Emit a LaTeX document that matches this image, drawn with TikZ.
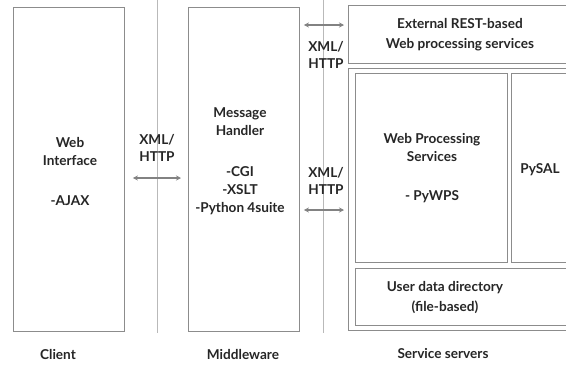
\documentclass[tikz,border=0pt]{standalone}
\usepackage{fontspec}
\setmainfont{Lato}
\usetikzlibrary{arrows.meta}
\definecolor{boxgray}{RGB}{140,140,140}
\definecolor{linegray}{RGB}{185,185,185}
\definecolor{arrowgray}{RGB}{130,130,130}
\tikzset{
  box/.style={draw=boxgray, line width=0.9pt},
  lbl/.style={font=\bfseries\fontsize{13.6}{18}\selectfont, align=center, inner sep=0pt, text=black!85},
  sep/.style={draw=linegray, line width=0.9pt},
  dblarrow/.style={draw=arrowgray, line width=1.4pt, {Stealth[length=5pt,width=5pt]}-{Stealth[length=5pt,width=5pt]}},
}
\begin{document}
\begin{tikzpicture}[x=1pt,y=-1pt]
\useasboundingbox (0,0) rectangle (566,365);
\clip (0,0) rectangle (566,365);
\fill[white] (0,0) rectangle (566,365);
% separators
\coordinate (s1t) at (157,0); \coordinate (s1b) at (157,333);
\coordinate (s2t) at (323,0); \coordinate (s2b) at (323,333);
\draw[sep] (s1t) -- (s1b);
\draw[sep] (s2t) -- (s2b);
% boxes
\node[box, minimum width=111pt, minimum height=324pt, anchor=north west, inner sep=0pt] (client) at (13,7) {};
\node[box, minimum width=111pt, minimum height=324pt, anchor=north west, inner sep=0pt] (mid) at (188,7) {};
\node[box, minimum width=230pt, minimum height=58pt, anchor=north west, inner sep=0pt] (ext) at (348,5) {};
\node[box, minimum width=230pt, minimum height=262pt, anchor=north west, inner sep=0pt] (srv) at (348,68) {};
\node[box, minimum width=152pt, minimum height=189pt, anchor=north west, inner sep=0pt] (wps) at (355,73) {};
\node[box, minimum width=70pt, minimum height=189pt, anchor=north west, inner sep=0pt] (pysal) at (511,73) {};
\node[box, minimum width=220pt, minimum height=57pt, anchor=north west, inner sep=0pt] (udata) at (355,268) {};
% texts
\node[lbl] (t1) at (70,171) {Web\\Interface\\[22pt]-AJAX};
\node[lbl] (t2) at (240,161) {Message\\Handler\\[23pt]-CGI\\-XSLT\\-Python 4suite};
\node[lbl, font=\bfseries\fontsize{13.6}{20}\selectfont] (t3) at (460,35) {External REST-based\\Web processing services};
\node[lbl] (t4) at (432,168.5) {Web Processing\\Services\\[21pt]- PyWPS};
\node[lbl] (t5) at (540,170) {PySAL};
\node[lbl, font=\bfseries\fontsize{13.6}{20}\selectfont] (t6) at (445,298) {User data directory\\(file-based)};
\node[lbl, font=\bfseries\fontsize{13.6}{17}\selectfont] (x1) at (157,148) {XML/\\HTTP};
\node[lbl, font=\bfseries\fontsize{13.6}{17}\selectfont] (x2) at (326,55) {XML/\\HTTP};
\node[lbl, font=\bfseries\fontsize{13.6}{17}\selectfont] (x3) at (326,181) {XML/\\HTTP};
\node[lbl] (c1) at (58,354) {Client};
\node[lbl] (c2) at (243,354) {Middleware};
\node[lbl] (c3) at (443,354) {Service servers};
% arrows
\coordinate (a1) at (client.east |- 0,178);
\coordinate (a2) at (mid.west |- 0,178);
\draw[dblarrow, shorten <=8pt, shorten >=7pt] (a1) -- (a2);
\coordinate (b1) at (mid.east |- 0,25);
\coordinate (b2) at (ext.west |- 0,25);
\draw[dblarrow, shorten <=4pt, shorten >=4pt] (b1) -- (b2);
\coordinate (d1) at (mid.east |- 0,210);
\coordinate (d2) at (srv.west |- 0,210);
\draw[dblarrow, shorten <=4pt, shorten >=4pt] (d1) -- (d2);
\end{tikzpicture}
\end{document}
